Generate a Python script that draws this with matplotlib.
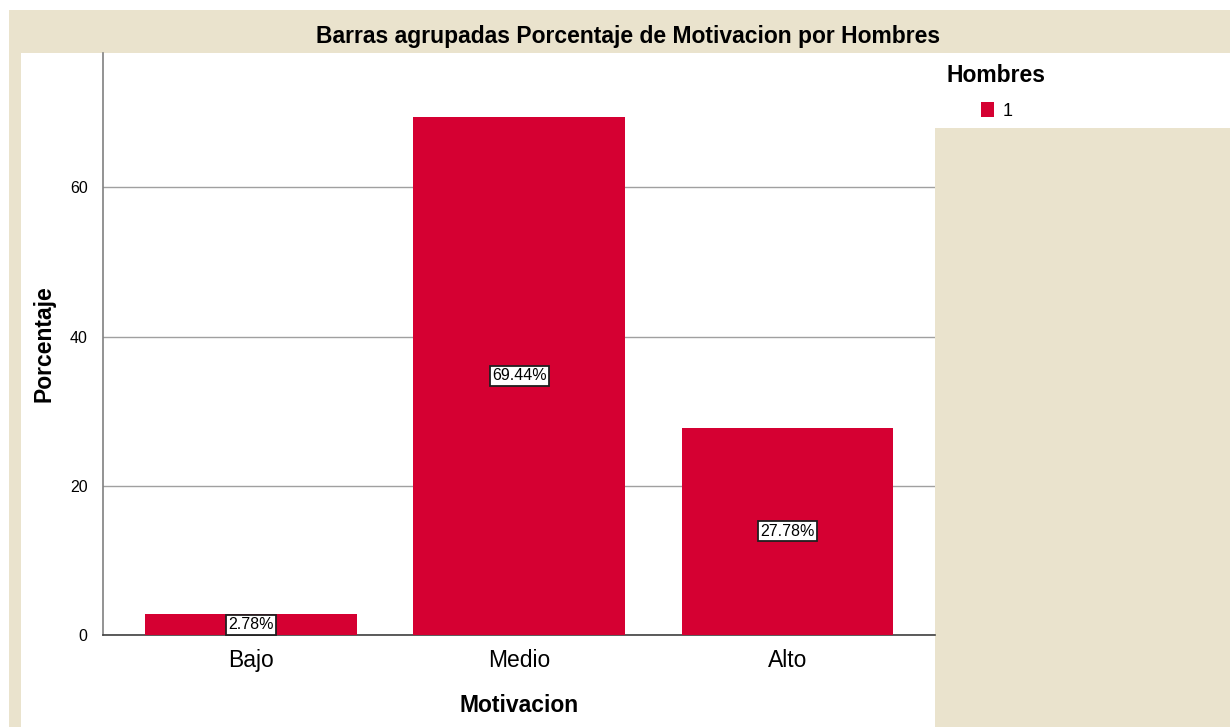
import matplotlib.pyplot as plt
from matplotlib.patches import Rectangle

plt.rcParams['font.family'] = ['Liberation Sans', 'DejaVu Sans']

# data
categorias = ["Bajo", "Medio", "Alto"]
porcentajes = [2.78, 69.44, 27.78]
etiquetas = ["2.78%", "69.44%", "27.78%"]
yticks = [0, 20, 40, 60]

beige = "#EAE3CD"
rojo = "#D50032"

W, H = 1230, 727
fig = plt.figure(figsize=(12.3, 7.27), dpi=100)
fig.patch.set_facecolor("white")

def caja(x0, y0, x1, y1, color):
    # pixel box (top-left origin) -> figure coords
    fig.add_artist(Rectangle((x0/W, 1 - y1/H), (x1-x0)/W, (y1-y0)/H,
                             transform=fig.transFigure, facecolor=color, edgecolor="none", zorder=0))

caja(9, 10, W, H, beige)          # outer beige frame
caja(21, 53, 935, H, "white")     # chart panel
caja(935, 53, W, 128, "white")    # legend box

ax = fig.add_axes([103/W, 92/H, 832/W, 582/H])
ax.set_facecolor("none")

x = range(len(categorias))
ax.bar(x, porcentajes, width=0.79, color=rojo, zorder=3)
for i, (v, t) in enumerate(zip(porcentajes, etiquetas)):
    ax.text(i, v / 2, t, ha="center", va="center", fontsize=11.5, zorder=4,
            bbox=dict(boxstyle="square,pad=0.15", facecolor="white", edgecolor="#202020", linewidth=1.3))

ax.set_xlim(-0.552, 2.55)
ax.set_ylim(0, 78)
ax.set_yticks(yticks)
ax.set_xticks(list(x))
ax.set_xticklabels(categorias, fontsize=16.5)
ax.tick_params(axis="y", length=0, labelsize=11.5, pad=11)
ax.tick_params(axis="x", length=0, pad=10)
ax.yaxis.grid(True, color="#A0A0A0", linewidth=1, zorder=1)
ax.set_axisbelow(True)

for s in ["top", "right"]:
    ax.spines[s].set_visible(False)
ax.spines["left"].set_color("#808080")
ax.spines["bottom"].set_color("#404040")
ax.spines["left"].set_linewidth(1.2)
ax.spines["bottom"].set_linewidth(1.2)

ax.set_xlabel("Motivacion", fontsize=16.5, fontweight="bold", labelpad=16)
ax.set_ylabel("Porcentaje", fontsize=16.5, fontweight="bold", labelpad=10)

fig.text(628/W, 1 - 36/H, "Barras agrupadas Porcentaje de Motivacion por Hombres",
         ha="center", va="center", fontsize=16.5, fontweight="bold")

# legend
fig.text(947/W, 1 - 76/H, "Hombres", ha="left", va="center", fontsize=16.5, fontweight="bold")
fig.add_artist(Rectangle((981/W, 1 - 117/H), 13/W, 15/H,
                         transform=fig.transFigure, facecolor=rojo, edgecolor="none"))
fig.text(1003/W, 1 - 111/H, "1", ha="left", va="center", fontsize=13)

fig.savefig("out.png", dpi=100, facecolor=fig.get_facecolor())
